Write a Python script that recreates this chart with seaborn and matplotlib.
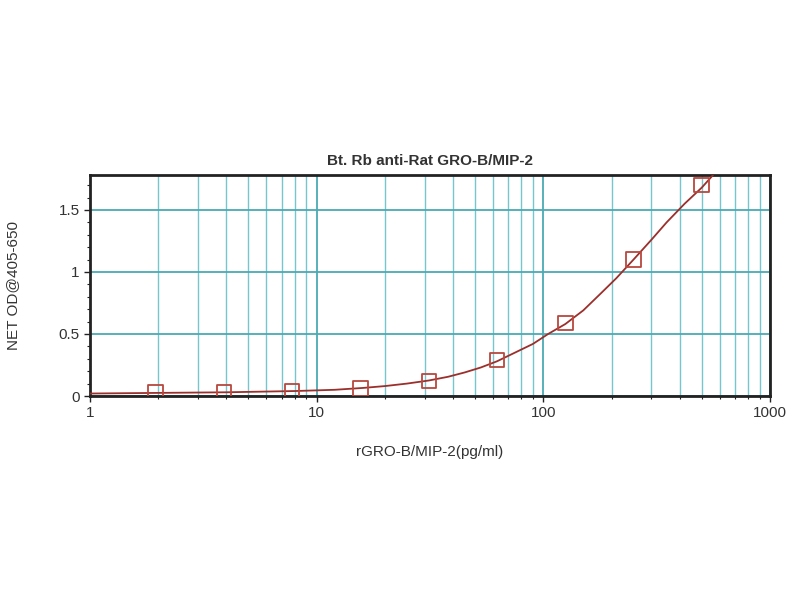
import matplotlib
matplotlib.use("Agg")
import matplotlib.pyplot as plt
import matplotlib.ticker as mticker
import seaborn as sns
import pandas as pd

# standard points (pg/ml) and measured OD
conc = [1.95, 3.9, 7.8, 15.6, 31.25, 62.5, 125, 250, 500]
od = [0.03, 0.03, 0.035, 0.06, 0.12, 0.29, 0.59, 1.10, 1.70]

# fitted curve
curve_x = [1, 2, 4, 8, 12, 16, 20, 25, 31.25, 38, 45, 53, 62.5, 75, 90, 105, 125,
           150, 180, 210, 250, 300, 350, 420, 500, 560]
curve_y = [0.02, 0.025, 0.03, 0.04, 0.05, 0.065, 0.08, 0.10, 0.125, 0.155, 0.19, 0.23,
           0.28, 0.35, 0.42, 0.50, 0.58, 0.69, 0.83, 0.95, 1.10, 1.26, 1.40, 1.55, 1.68, 1.78]

pts = pd.DataFrame({"conc": conc, "od": od})
fit = pd.DataFrame({"conc": curve_x, "od": curve_y})

sns.set_style("white")
plt.rcParams["font.family"] = ["Liberation Sans", "DejaVu Sans"]

fig = plt.figure(figsize=(8, 6), dpi=100)
ax = fig.add_axes([0.1125, 0.34, 0.85, 0.368])

grid_col = "#5fbcc4"
ax.set_xscale("log")
ax.set_xlim(1, 1000)
ax.set_ylim(0, 1.78)
ax.xaxis.set_major_locator(mticker.LogLocator(base=10))
ax.xaxis.set_minor_locator(mticker.LogLocator(base=10, subs=range(2, 10)))
ax.xaxis.set_major_formatter(mticker.FuncFormatter(lambda v, p: f"{v:g}"))
ax.xaxis.set_minor_formatter(mticker.NullFormatter())
ax.yaxis.set_major_locator(mticker.FixedLocator([0, 0.5, 1, 1.5]))
ax.yaxis.set_major_formatter(mticker.FuncFormatter(lambda v, p: f"{v:g}"))
ax.yaxis.set_minor_locator(mticker.MultipleLocator(0.1))
ax.grid(True, which="major", axis="both", color="#4aaab4", lw=1.3)
ax.grid(True, which="minor", axis="x", color=grid_col, lw=1.0, alpha=0.85)

sns.lineplot(data=fit, x="conc", y="od", ax=ax, color="#9b2f2b", lw=1.3, zorder=3)
sns.scatterplot(data=pts, x="conc", y="od", ax=ax, marker="s", s=110,
                facecolor="none", edgecolor="#b8483f", linewidth=1.3, zorder=4)

for s in ax.spines.values():
    s.set_color("#222222")
    s.set_linewidth(2)
ax.tick_params(axis="both", which="major", direction="out", length=4, width=1, colors="#222222",
               labelsize=11, left=True, bottom=True)
ax.tick_params(axis="both", which="minor", direction="out", length=2, width=0.8, colors="#222222",
               left=True, bottom=True)
for lab in ax.get_xticklabels() + ax.get_yticklabels():
    lab.set_color("#333333")

ax.set_title("Bt. Rb anti-Rat GRO-B/MIP-2", fontsize=11, fontweight="bold", color="#333333", pad=7)
ax.set_xlabel("rGRO-B/MIP-2(pg/ml)", fontsize=11, color="#333333", labelpad=18)
ax.set_ylabel("NET OD@405-650", fontsize=11, color="#333333", labelpad=28)

fig.savefig("out.png", dpi=100)
